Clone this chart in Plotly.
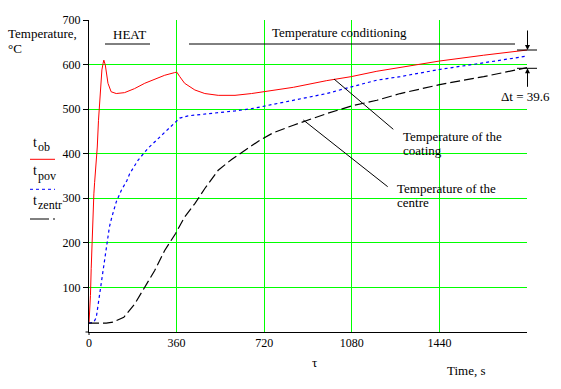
import plotly.graph_objects as go

# ---------------- data ----------------
red_t = [0, 3, 6, 9, 12, 16, 20, 23, 28, 34, 39, 46, 53, 58, 61, 67, 71, 78, 91, 112, 146, 187, 229,
         270, 311, 352, 361, 373, 393, 435, 476, 531, 600, 668, 723, 840, 977, 1078, 1183, 1279,
         1441, 1622, 1800]
red_T = [20, 50, 82, 142, 200, 258, 310, 335, 370, 415, 475, 535, 588, 603, 610, 599, 580, 558, 539,
         535, 537, 546, 558, 567, 576, 582, 583, 573, 558, 543, 535, 531, 531, 535, 539, 549, 564,
         573, 585, 594, 608, 621, 632.6]

blue_t = [0, 20, 30, 36, 43, 53, 64, 75, 84, 94, 112, 133, 156, 167, 201, 242, 284, 325, 356, 373,
          407, 462, 531, 600, 668, 723, 840, 977, 1078, 1183, 1279, 1441, 1622, 1800]
blue_T = [20, 22, 33, 56, 86, 116, 161, 206, 236, 258, 292, 318, 340, 355, 385, 412, 434, 457, 473,
          480, 485, 488, 492, 496, 501, 507, 520, 535, 550, 565, 573, 589, 604, 619]

black_t = [0, 71, 98, 143, 188, 229, 270, 311, 339, 356, 393, 435, 476, 497, 531, 586, 627, 696,
           757, 840, 977, 1078, 1183, 1279, 1441, 1622, 1800]
black_T = [20, 20, 22, 33, 63, 99, 138, 183, 206, 221, 258, 288, 322, 337, 363, 387, 403, 428,
           447, 464, 490, 507, 520, 535, 555, 573, 593]

x_ticks = [0, 360, 720, 1080, 1440]
y_ticks = [100, 200, 300, 400, 500, 600, 700]
delta_t = 39.6
legend_subs = ["ob", "pov", "zentr"]

# ---------------- layout helpers ----------------
W, H = 561, 389
ML, MR, MT, MB = 89, 34, 20, 57
PW, PH = W - ML - MR, H - MT - MB
FONT = "Liberation Serif, Times New Roman, DejaVu Serif, serif"


def px(x):
    return (x - ML) / PW


def py(y):
    return (H - MB - y) / PH


fig = go.Figure()
fig.add_trace(go.Scatter(x=red_t, y=red_T, mode="lines", line=dict(color="#ff0000", width=1),
                         name="t_ob", showlegend=False))
fig.add_trace(go.Scatter(x=blue_t, y=blue_T, mode="lines",
                         line=dict(color="#0000ff", width=1.2, dash="3px,3px"),
                         name="t_pov", showlegend=False))
fig.add_trace(go.Scatter(x=black_t, y=black_T, mode="lines",
                         line=dict(color="#000000", width=1.2, dash="10px,4px"),
                         name="t_zentr", showlegend=False))

shapes = []
annotations = []


def line(x0, y0, x1, y1, color="black", width=1, dash="solid", layer="above"):
    shapes.append(dict(type="line", xref="paper", yref="paper", x0=px(x0), y0=py(y0),
                       x1=px(x1), y1=py(y1), line=dict(color=color, width=width, dash=dash),
                       layer=layer))


def mask(x0, y0, x1, y1):
    shapes.append(dict(type="rect", xref="paper", yref="paper", x0=px(x0), y0=py(y0),
                       x1=px(x1), y1=py(y1), fillcolor="white", line=dict(width=0),
                       layer="between"))


def text(t, x, y, xanchor="left", size=13):
    annotations.append(dict(text=t, xref="paper", yref="paper", x=px(x), y=py(y),
                            xanchor=xanchor, yanchor="middle", showarrow=False,
                            font=dict(family=FONT, size=size, color="black")))


# masks behind texts (hide gridlines)
mask(260.7, 19.5, 406.7, 31.7)
mask(268, 19.5, 409, 43.5)
mask(400.7, 126.7, 512.7, 159.3)
mask(395, 180, 513, 213.3)

# axis line extensions
line(ML, H - MB, ML, H - MB + 3)
line(ML - 3.5, H - MB, ML, H - MB)

# titles and labels
text("Temperature,", 6, 34)
text("°C", 6, 48)
text("HEAT", 129, 34.5, xanchor="center")
line(105, 44, 150, 44)
line(189, 44, 515, 44)
text("Temperature conditioning", 270, 33)

text("Temperature of the", 401, 136)
text("coating", 401, 151)
text("Temperature of the", 394.5, 188)
text("centre", 394.5, 202.5)
line(334, 79, 393.3, 129.3)
line(303.3, 120, 387.7, 186.7)

text("τ", 314, 362, xanchor="center")
text("Time, s", 466, 370.5, xanchor="center")

# legend
leg_y = [142.5, 171, 200.5]
line_y = [159.3, 189.3, 219]
leg_style = [("#ff0000", "solid"), ("#0000ff", "3px,3px"), ("black", "19px,4px,2px,4px")]
for sub, ty, ly, (col, dsh) in zip(legend_subs, leg_y, line_y, leg_style):
    text("t", 31, ty, size=14)
    text(sub, 35.5, ty + 4.5, size=12)
    line(30, ly, 55, ly, color=col, dash=dsh)

# delta t marker
line(517, 50, 537, 50)
line(517, 68.3, 537, 68.3)
annotations.append(dict(x=px(527.5), y=py(50), xref="paper", yref="paper", text="",
                        showarrow=True, ax=0, ay=-21, arrowhead=2, arrowsize=1, arrowwidth=1,
                        arrowcolor="black"))
annotations.append(dict(x=px(527.5), y=py(68.3), xref="paper", yref="paper", text="",
                        showarrow=True, ax=0, ay=20, arrowhead=2, arrowsize=1, arrowwidth=1,
                        arrowcolor="black"))
text(f"Δt = {delta_t}", 525, 96.7, xanchor="center")

GRID = "#00ff00"
fig.update_layout(
    width=W, height=H,
    margin=dict(l=ML, r=MR, t=MT, b=MB, pad=0),
    paper_bgcolor="white", plot_bgcolor="white",
    showlegend=False,
    shapes=shapes, annotations=annotations,
    font=dict(family=FONT, size=12, color="black"),
    xaxis=dict(range=[0, 1800], tickvals=x_ticks, ticktext=[str(v) for v in x_ticks],
               showgrid=True, gridcolor=GRID, gridwidth=1, zeroline=False,
               showline=True, linecolor="black", linewidth=1, ticks="",
               tickfont=dict(family=FONT, size=12, color="black")),
    yaxis=dict(range=[0, 700], tickvals=y_ticks, ticktext=[str(v) for v in y_ticks],
               showgrid=True, gridcolor=GRID, gridwidth=1, zeroline=False,
               showline=True, linecolor="black", linewidth=1, ticks="outside", ticklen=5,
               tickcolor="black", tickwidth=1,
               tickfont=dict(family=FONT, size=12, color="black")),
)

fig.write_html("out.html", config={"displayModeBar": False},
               post_script="document.body.style.margin='0';document.body.style.padding='0';")
